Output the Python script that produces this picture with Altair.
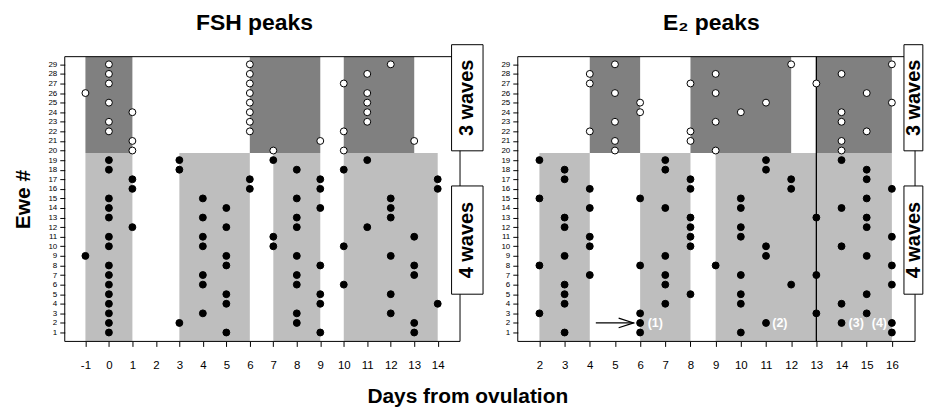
import altair as alt
import pandas as pd

FONT = "Liberation Sans"

# ---------------- data ----------------
fsh_days = list(range(-1, 15))
e2_days = list(range(2, 17))
ewe_ticks = list(range(1, 30))

# ewes with a peak on each day (open = 3-wave ewes, solid = 4-wave ewes)
fsh_open = {-1: [26], 0: [29, 28, 27, 25, 23, 22], 1: [24, 21, 20],
            6: [29, 28, 27, 26, 25, 24, 23, 22], 7: [20], 9: [21],
            10: [27, 22, 20], 11: [28, 26, 25, 24, 23], 12: [29], 13: [21]}
fsh_solid = {-1: [9], 0: [19, 18, 15, 14, 13, 11, 10, 8, 7, 6, 5, 4, 3, 2, 1],
             1: [17, 16, 12], 3: [19, 18, 2], 4: [15, 13, 11, 10, 7, 6, 3],
             5: [14, 12, 9, 8, 5, 4, 1], 6: [17, 16], 7: [19, 11, 10],
             8: [18, 15, 13, 12, 9, 7, 6, 3, 2], 9: [17, 16, 14, 8, 5, 4, 1],
             10: [18, 10, 6], 11: [19, 12], 12: [15, 14, 13, 9, 5, 3],
             13: [11, 8, 7, 2, 1], 14: [17, 16, 4]}
e2_open = {4: [28, 27, 22], 5: [29, 26, 23, 21, 20], 6: [25, 24], 8: [27, 22, 21],
           9: [28, 26, 23, 20], 10: [24], 11: [25], 12: [29], 13: [27],
           14: [28, 24, 23, 21, 20], 15: [26, 22], 16: [29, 25]}
e2_solid = {2: [19, 15, 8, 3], 3: [18, 17, 13, 12, 9, 6, 5, 4, 1],
            4: [16, 14, 11, 10, 7], 6: [15, 8, 3, 2, 1], 7: [19, 18, 14, 9, 7, 6, 4],
            8: [17, 16, 13, 12, 11, 10, 5], 9: [8], 10: [15, 14, 12, 11, 7, 5, 4, 1],
            11: [19, 18, 10, 9, 2], 12: [17, 16, 6], 13: [13, 7, 3],
            14: [19, 14, 10, 4, 2], 15: [18, 17, 15, 13, 12, 9, 5, 3],
            16: [16, 11, 8, 6, 2, 1]}

# wave periods (day ranges) shaded for 4-wave (light) and 3-wave (dark) ewes
fsh_light = [(-1, 1), (3, 6), (7, 9), (10, 14)]
fsh_dark = [(-1, 1), (6, 9), (10, 13)]
e2_light = [(2, 4), (6, 8), (9, 16)]
e2_dark = [(4, 6), (8, 12), (13, 16)]
split_y = 19.75

# annotations on the E2 panel
e2_notes = [(6.3, 2, "(1)"), (11.25, 2, "(2)"), (14.28, 2, "(3)"), (15.2, 2, "(4)")]
e2_arrow = (4.24, 5.74, 2)
e2_vline = 13

W_L, W_R, H = 397, 399, 286
Y_DOM = [0.07, 29.8]


def pts(d):
    return pd.DataFrame([{"day": k, "ewe": e} for k, v in d.items() for e in v])


def panel(title, days, xdom, width, open_d, solid_d, light, dark, box_x, ytitle,
          title_dx, extra=None):
    xs = alt.Scale(domain=xdom, nice=False, zero=False)
    ys = alt.Scale(domain=Y_DOM, nice=False, zero=False)
    xax = alt.Axis(values=days, domain=False, grid=False, tickSize=5, tickColor="black",
                   labelFontSize=11.5, labelFont=FONT, labelColor="black", labelPadding=13,
                   labelFlush=False, title=None, labelExpr="datum.value + ''")
    yax = alt.Axis(values=ewe_ticks, domain=False, grid=False, tickSize=5, tickColor="black",
                   labelFontSize=8, labelFont=FONT, labelColor="black", labelPadding=3,
                   title=ytitle if ytitle else None, titleFontSize=21, titleFont=FONT,
                   titleFontWeight="bold", titleColor="black", titlePadding=15)
    rects = pd.DataFrame(
        [{"x0": a, "x1": b, "y0": -2, "y1": split_y, "kind": "light"} for a, b in light] +
        [{"x0": a, "x1": b, "y0": split_y, "y1": 32, "kind": "dark"} for a, b in dark])
    rect_layer = alt.Chart(rects).mark_rect(clip=True).encode(
        x=alt.X("x0:Q", scale=xs, axis=xax), x2="x1:Q",
        y=alt.Y("y0:Q", scale=ys, axis=yax), y2="y1:Q",
        color=alt.Color("kind:N", scale=alt.Scale(domain=["light", "dark"],
                                                  range=["#bebebe", "#808080"]), legend=None))
    frame = alt.Chart(pd.DataFrame({"a": [0]})).mark_rect(
        fillOpacity=0, stroke="black", strokeWidth=1).encode(
        x=alt.value(0), x2=alt.value(width), y=alt.value(0), y2=alt.value(H))
    open_layer = alt.Chart(pts(open_d)).mark_point(
        filled=True, fill="white", stroke="black", strokeWidth=1, size=48, opacity=1,
        shape="circle").encode(x=alt.X("day:Q", scale=xs, axis=xax),
                               y=alt.Y("ewe:Q", scale=ys, axis=yax))
    solid_layer = alt.Chart(pts(solid_d)).mark_point(
        filled=True, fill="black", stroke="black", strokeWidth=1, size=48, opacity=1,
        shape="circle").encode(x=alt.X("day:Q", scale=xs, axis=xax),
                               y=alt.Y("ewe:Q", scale=ys, axis=yax))
    boxes = pd.DataFrame([
        {"x0": box_x[0], "x1": box_x[1], "y0": 19.97, "y1": 31.05, "lab": "3 waves", "yc": 25.5},
        {"x0": box_x[0], "x1": box_x[1], "y0": 5.0, "y1": 16.3, "lab": "4 waves", "yc": 10.65}])
    boxes["xc"] = box_x[2]
    box_layer = alt.Chart(boxes).mark_rect(
        clip=False, fill="white", stroke="black", strokeWidth=1).encode(
        x=alt.X("x0:Q", scale=xs, axis=xax), x2="x1:Q",
        y=alt.Y("y0:Q", scale=ys, axis=yax), y2="y1:Q")
    box_text = alt.Chart(boxes).mark_text(
        angle=270, font=FONT, fontSize=20, fontWeight="bold", color="black",
        align="center", baseline="middle", clip=False).encode(
        x=alt.X("xc:Q", scale=xs, axis=xax), y=alt.Y("yc:Q", scale=ys, axis=yax),
        text="lab:N")
    layers = [rect_layer]
    back, front = extra(xs, ys, xax, yax) if extra else ([], [])
    layers += back
    layers += [open_layer, solid_layer]
    layers += front
    layers += [frame, box_layer, box_text]
    return alt.layer(*layers).properties(
        width=width, height=H,
        title=alt.TitleParams(title, fontSize=23, font=FONT, fontWeight="bold",
                              color="black", anchor="middle", frame="group",
                              dx=title_dx, offset=9))


def e2_extra(xs, ys, xax, yax):
    vline = alt.Chart(pd.DataFrame({"x": [e2_vline]})).mark_rule(
        color="black", strokeWidth=1.3).encode(
        x=alt.X("x:Q", scale=xs, axis=xax))
    notes = pd.DataFrame(e2_notes, columns=["x", "y", "t"])
    note_layer = alt.Chart(notes).mark_text(
        font=FONT, fontSize=12.5, fontWeight="bold", color="white", align="left",
        baseline="middle").encode(x=alt.X("x:Q", scale=xs, axis=xax),
                                  y=alt.Y("y:Q", scale=ys, axis=yax), text="t:N")
    arrow = pd.DataFrame({"x0": [e2_arrow[0]], "x1": [e2_arrow[1]], "y": [e2_arrow[2]]})
    shaft = alt.Chart(arrow).mark_rule(color="black", strokeWidth=1.2).encode(
        x=alt.X("x0:Q", scale=xs, axis=xax), x2="x1:Q",
        y=alt.Y("y:Q", scale=ys, axis=yax))
    head = alt.Chart(arrow).mark_point(
        shape="M-1,-0.32L0,0L-1,0.32", filled=False, stroke="black", strokeWidth=1.2,
        size=900, opacity=1).encode(x=alt.X("x1:Q", scale=xs, axis=xax),
                                    y=alt.Y("y:Q", scale=ys, axis=yax))
    return [vline], [shaft, head, note_layer]


left = panel("FSH peaks", fsh_days, [-1.88, 14.95], W_L, fsh_open, fsh_solid,
             fsh_light, fsh_dark, (14.59, 15.93, 15.26), "Ewe #", -8)

# right box runs to the page edge (cut off in the original)
right = panel("E\u2082 peaks", e2_days, [1.14, 16.92], W_R, e2_open, e2_solid,
              e2_light, e2_dark, (16.48, 17.23, 16.86), None, -5, extra=e2_extra)

chart = alt.hconcat(left, right, spacing=17).properties(
    padding={"left": 4, "top": 3, "right": 0, "bottom": 0},
    title=alt.TitleParams("Days from ovulation", orient="bottom", anchor="middle",
                          fontSize=21, font=FONT, fontWeight="bold", color="black",
                          offset=15)
).configure_view(stroke=None).configure_axis(labelFont=FONT)

chart.save("out.html", embed_options={"renderer": "svg", "actions": False})
